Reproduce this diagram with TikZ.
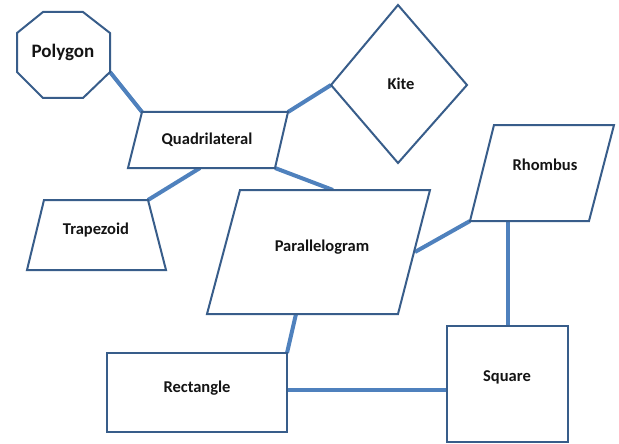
\documentclass[tikz,border=0pt]{standalone}
\usepackage{fontspec}
\setmainfont{Carlito}
\begin{document}
\begin{tikzpicture}[x=1pt,y=-1pt,
  shapeline/.style={draw={rgb,255:red,56;green,93;blue,138}, line width=2pt, line join=miter},
  conn/.style={draw={rgb,255:red,79;green,129;blue,189}, line width=4pt},
  lbl/.style={font=\bfseries\fontsize{16.5}{19}\selectfont, text={rgb,255:red,20;green,20;blue,20}}]
\useasboundingbox (0,0) rectangle (619,444);
% Polygon (octagon)
\coordinate (pg1) at (43,12); \coordinate (pg2) at (83,12);
\coordinate (pg3) at (110,33); \coordinate (pg4) at (110,72);
\coordinate (pg5) at (83,98); \coordinate (pg6) at (43,98);
\coordinate (pg7) at (17,72); \coordinate (pg8) at (17,33);
% Quadrilateral
\coordinate (q1) at (142,112); \coordinate (q2) at (288,112);
\coordinate (q3) at (275,168); \coordinate (q4) at (128,168);
\coordinate (qb) at (200,168);
% Kite
\coordinate (k1) at (398,5); \coordinate (k2) at (467,85);
\coordinate (k3) at (398,163); \coordinate (k4) at (331,85);
% Trapezoid
\coordinate (t1) at (44,200); \coordinate (t2) at (148,200);
\coordinate (t3) at (166,270); \coordinate (t4) at (27,270);
% Parallelogram
\coordinate (p1) at (240,190); \coordinate (p2) at (430,190);
\coordinate (p3) at (398,314); \coordinate (p4) at (207,314);
\coordinate (pt) at (333,190); \coordinate (pr) at (415,252); \coordinate (pb) at (296,314);
% Rhombus
\coordinate (r1) at (494,125); \coordinate (r2) at (614,125);
\coordinate (r3) at (589,221); \coordinate (r4) at (470,221);
\coordinate (rb) at (508,221);
% Rectangle
\coordinate (re1) at (107,353); \coordinate (re2) at (287,353);
\coordinate (re3) at (287,432); \coordinate (re4) at (107,432);
\coordinate (rer) at (287,390);
% Square
\coordinate (s1) at (447,326); \coordinate (s2) at (568,326);
\coordinate (s3) at (568,442); \coordinate (s4) at (447,442);
\coordinate (st) at (508,326); \coordinate (sl) at (447,390);
% connectors
\draw[conn] (pg4) -- (q1);
\draw[conn] (q2) -- (k4);
\draw[conn] (qb) -- (t2);
\draw[conn] (q3) -- (pt);
\draw[conn] (pr) -- (r4);
\draw[conn] (rb) -- (st);
\draw[conn] (pb) -- (re2);
\draw[conn] (rer) -- (sl);
% shapes
\draw[shapeline, fill=white] (pg1) -- (pg2) -- (pg3) -- (pg4) -- (pg5) -- (pg6) -- (pg7) -- (pg8) -- cycle;
\draw[shapeline, fill=white] (q1) -- (q2) -- (q3) -- (q4) -- cycle;
\draw[shapeline, fill=white] (k1) -- (k2) -- (k3) -- (k4) -- cycle;
\draw[shapeline, fill=white] (t1) -- (t2) -- (t3) -- (t4) -- cycle;
\draw[shapeline, fill=white] (p1) -- (p2) -- (p3) -- (p4) -- cycle;
\draw[shapeline, fill=white] (r1) -- (r2) -- (r3) -- (r4) -- cycle;
\draw[shapeline, fill=white] (re1) -- (re2) -- (re3) -- (re4) -- cycle;
\draw[shapeline, fill=white] (s1) -- (s2) -- (s3) -- (s4) -- cycle;
% labels
\node[lbl, font=\bfseries\fontsize{19}{22}\selectfont] (polygon) at (63,52) {Polygon};
\node[lbl] (quad) at (207,140) {Quadrilateral};
\node[lbl] (kite) at (401,84) {Kite};
\node[lbl] (trap) at (96,230) {Trapezoid};
\node[lbl] (para) at (322,247) {Parallelogram};
\node[lbl] (rhom) at (545,165) {Rhombus};
\node[lbl] (rect) at (197,388) {Rectangle};
\node[lbl] (sq) at (507,377) {Square};
\end{tikzpicture}
\end{document}
